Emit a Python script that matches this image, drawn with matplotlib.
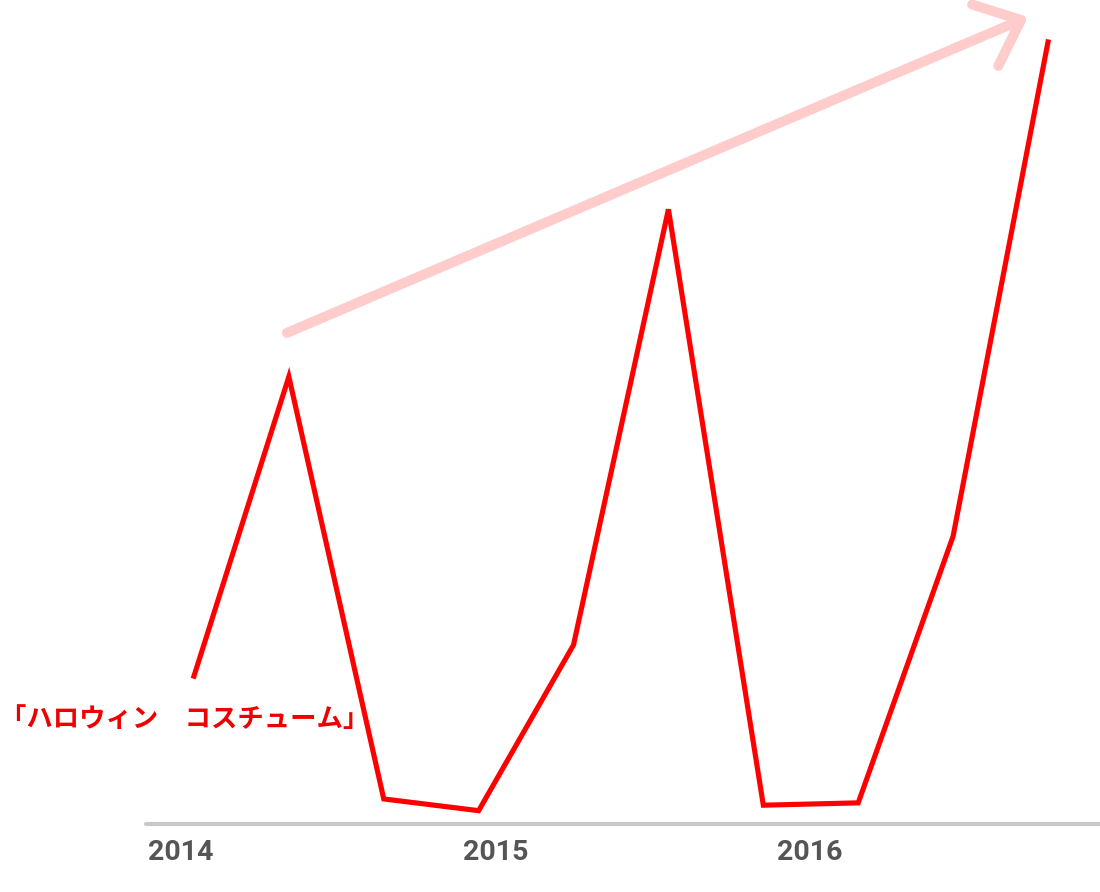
import numpy as np
import matplotlib.pyplot as plt

plt.rcParams['font.family'] = ['Roboto', 'Noto Sans CJK JP', 'DejaVu Sans']

# data: search interest index (0-100), one point per period
period = np.arange(10)
interest = [18.9, 57.2, 3.2, 1.7, 22.9, 78.6, 2.4, 2.7, 36.8, 100]
year_labels = ['2014', '2015', '2016']
year_pos = [-0.484, 2.835, 6.144]
series_name = '「ハロウィン\u3000コスチューム」'

fig = plt.figure(figsize=(11, 8.92), dpi=100)
ax = fig.add_axes([0, 0, 1, 1])
ax.set_xlim(-2.044, 9.548)
ax.set_ylim(-8.70, 105.37)
ax.axis('off')

# baseline
ax.plot([-0.505, 9.548], [0, 0], color='#c8c8c8', lw=3, solid_capstyle='round', zorder=1)

# the trend line
ax.plot(period, interest, color='#ff0000', lw=3.7, solid_joinstyle='miter', zorder=3)

# trend arrow
ax.annotate('', xy=(8.79, 103.2), xytext=(0.98, 62.8),
            arrowprops=dict(arrowstyle='->,head_length=2.8,head_width=2.4',
                            color='#ffcccc', lw=7.2, capstyle='round',
                            shrinkA=0, shrinkB=0, mutation_scale=10),
            zorder=2)

for lab, xp in zip(year_labels, year_pos):
    ax.text(xp, -3.7, lab, ha='left', va='center', fontsize=20.5,
            fontweight='bold', color='#555555')

ax.text(-2.04, 13.4, series_name, ha='left', va='center', fontsize=19.0,
        fontweight='bold', color='#ee0000',
        family=['Noto Sans CJK JP', 'DejaVu Sans'])

fig.savefig('out.png', dpi=100)
